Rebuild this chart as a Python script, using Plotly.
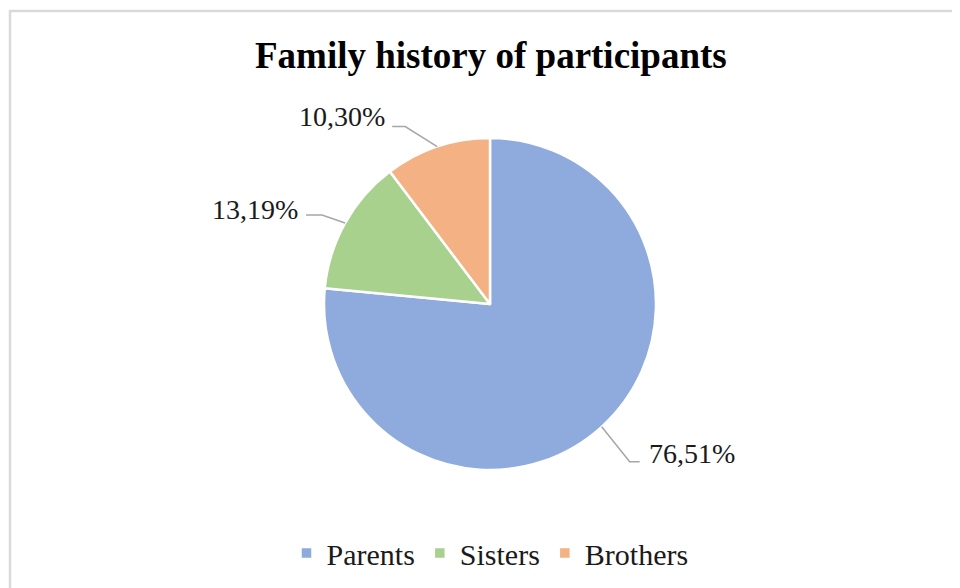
import math
import plotly.graph_objects as go

# ---- data ----
categories = ["Parents", "Sisters", "Brothers"]
values = [76.51, 13.19, 10.30]
label_texts = ["76,51%", "13,19%", "10,30%"]
colors = ["#8FAADC", "#A9D18E", "#F4B183"]
title_text = "Family history of participants"

# ---- layout geometry (screen pixels) ----
W, H = 960, 588
PAGE_MARGIN = 8  # default body margin of the html page
CX, CY, R = 490, 304, 166
# leader line styling: elbow offset from slice edge, horizontal run, text gap, side
leader_style = [
    dict(dx=28, dy=35, run=10, gap=7, side="right", ty=-8),
    dict(dx=-23, dy=-8, run=-16, gap=-6, side="left", ty=-6),
    dict(dx=-32, dy=-20, run=-13, gap=-5, side="left", ty=-10),
]
FONT = "Liberation Serif, Times New Roman, serif"


def px(x):
    return (x - PAGE_MARGIN) / W


def py(y):
    return 1 - (y - PAGE_MARGIN) / H


fig = go.Figure(
    go.Pie(
        labels=categories,
        values=values,
        sort=False,
        direction="clockwise",
        rotation=0,
        marker=dict(colors=colors, line=dict(color="white", width=2.5)),
        textinfo="none",
        hoverinfo="label+percent",
        domain=dict(x=[px(CX - R), px(CX + R)], y=[py(CY + R), py(CY - R)]),
    )
)

shapes = []
annotations = []
total = sum(values)
cum = 0.0
for v, txt, st in zip(values, label_texts, leader_style):
    mid = (cum + v / 2) / total * 2 * math.pi
    cum += v
    ex = CX + R * math.sin(mid)
    ey = CY - R * math.cos(mid)
    bx, by = ex + st["dx"], ey + st["dy"]
    hx = bx + st["run"]
    path = f"M {px(ex)},{py(ey)} L {px(bx)},{py(by)} L {px(hx)},{py(by)}"
    shapes.append(dict(type="path", xref="paper", yref="paper", path=path,
                       line=dict(color="#A6A6A6", width=1.5)))
    annotations.append(dict(
        x=px(hx + st["gap"]), y=py(by + st["ty"]), xref="paper", yref="paper",
        text=txt, showarrow=False,
        xanchor="left" if st["side"] == "right" else "right", yanchor="middle",
        font=dict(family=FONT, size=28, color="#1a1a1a"),
    ))

# chart-area border
shapes.append(dict(type="rect", xref="paper", yref="paper",
                   x0=px(10), y0=py(640), x1=px(1000), y1=py(11),
                   line=dict(color="#D9D9D9", width=2.5), fillcolor="rgba(0,0,0,0)"))

annotations.append(dict(
    x=px(491), y=py(56), xref="paper", yref="paper", text=f"<b>{title_text}</b>",
    showarrow=False, xanchor="center", yanchor="middle",
    font=dict(family=FONT, size=37, color="#000000"),
))

fig.update_layout(
    width=W, height=H,
    margin=dict(l=0, r=0, t=0, b=0),
    paper_bgcolor="white", plot_bgcolor="white",
    shapes=shapes, annotations=annotations,
    showlegend=True,
    legend=dict(orientation="h", x=px(490), y=py(553), xanchor="center", yanchor="middle",
                font=dict(family=FONT, size=30, color="#1a1a1a"), itemclick=False,
                tracegroupgap=0),
)

fig.write_html("out.html")
